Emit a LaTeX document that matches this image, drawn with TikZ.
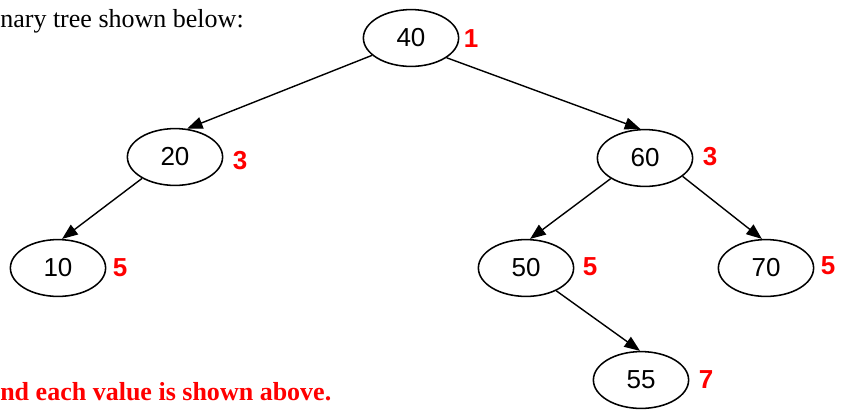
\documentclass[tikz,border=0pt]{standalone}
\usepackage{fontspec}
\setmainfont{Liberation Serif}
\newfontfamily\arialfont{Liberation Sans}
\usetikzlibrary{arrows.meta,shapes.geometric}

\begin{document}
\begin{tikzpicture}[x=0.025cm,y=-0.025cm,
  treenode/.style={ellipse,draw,line width=1.1pt,minimum width=2.38cm,minimum height=1.42cm,inner sep=0pt,
    font=\arialfont\fontsize{18.5}{22}\selectfont},
  order/.style={text=red,font=\arialfont\bfseries\fontsize{18.5}{22}\selectfont,inner sep=0pt},
  link/.style={line width=1pt,-{Triangle[length=3.9mm,width=3mm]}}]
\useasboundingbox (0,0) rectangle (843,409);
\node[anchor=base west,inner sep=0pt,font=\fontsize{18.5}{22}\selectfont] (intro) at (0,27) {nary tree shown below:};
\node[anchor=base west,inner sep=0pt,text=red,font=\bfseries\fontsize{18.5}{22}\selectfont] (note) at (0,400) {nd each value is shown above.};
\node[treenode] (n40) at (411,38) {40};
\node[treenode] (n20) at (175,157) {20};
\node[treenode] (n60) at (645,158) {60};
\node[treenode] (n10) at (58,268) {10};
\node[treenode] (n50) at (526,268) {50};
\node[treenode] (n70) at (766,268) {70};
\node[treenode] (n55) at (641,380) {55};
\node[order] (o40) at (471,39) {1};
\node[order] (o20) at (240,161) {3};
\node[order] (o60) at (710,157) {3};
\node[order] (o10) at (120,268) {5};
\node[order] (o50) at (590,267) {5};
\node[order] (o70) at (828,266) {5};
\node[order] (o55) at (706,380) {7};
\draw[link] (n40.204) -- (n20.67);
\draw[link] (n40.331) -- (n60.99);
\draw[link] (n20.213) -- (n10.82);
\draw[link] (n60.211) -- (n50.82);
\draw[link] (n60.334) -- (n70.98);
\draw[link] (n50.323) -- (n55.92);
\end{tikzpicture}
\end{document}
